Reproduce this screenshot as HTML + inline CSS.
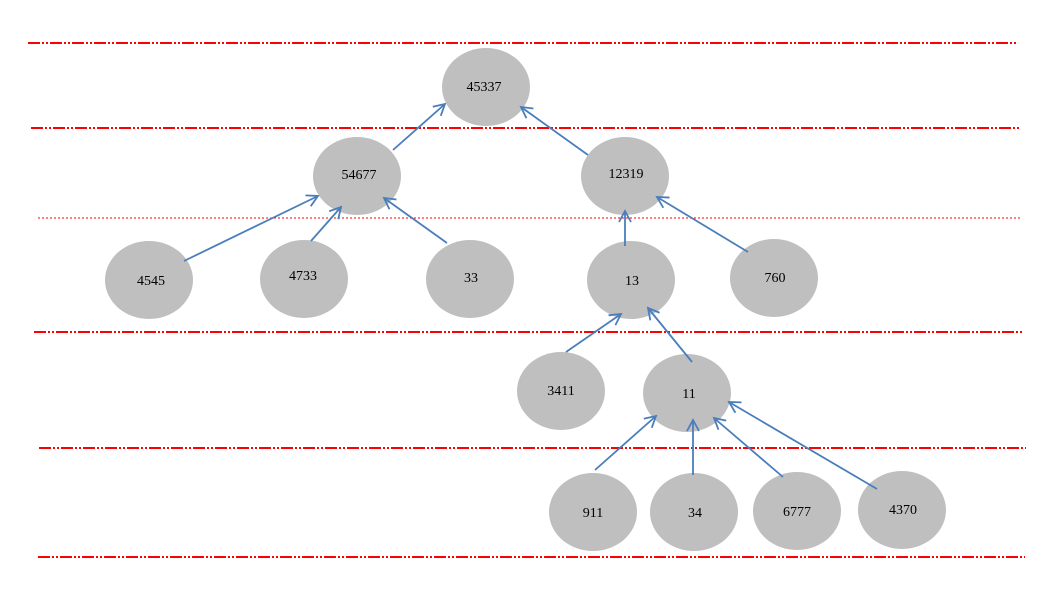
<!DOCTYPE html>
<html><head><meta charset="utf-8"><style>
html,body{margin:0;padding:0;background:#fff;}
svg{display:block;}
text{font-family:"Liberation Serif",serif;font-size:14px;fill:#000;text-anchor:middle;dominant-baseline:middle;}
</style></head><body>
<svg width="1061" height="591" viewBox="0 0 1061 591" xmlns="http://www.w3.org/2000/svg">
<defs>
<marker id="a" markerWidth="14" markerHeight="14" refX="12" refY="7" orient="auto" markerUnits="userSpaceOnUse">
<path d="M1,1 L12,7 L1,13" fill="none" stroke="#4a7ebb" stroke-width="1.8"/>
</marker>
</defs>
<g stroke="#f00" stroke-width="2" stroke-dasharray="12 2 2 2 2 2" fill="none">
<line x1="28" y1="43" x2="1016" y2="43"/>
<line x1="31" y1="128" x2="1019" y2="128"/>
<line x1="34" y1="332" x2="1022" y2="332"/>
<line x1="39" y1="448" x2="1026" y2="448"/>
<line x1="38" y1="557" x2="1025" y2="557"/>
</g>
<line x1="38" y1="218" x2="1022" y2="218" stroke="#f00" stroke-width="1" stroke-dasharray="2 2"/>
<g fill="#bfbfbf">
<ellipse cx="486" cy="87" rx="44" ry="39"/>
<ellipse cx="357" cy="176" rx="44" ry="39"/>
<ellipse cx="625" cy="176" rx="44" ry="39"/>
<ellipse cx="149" cy="280" rx="44" ry="39"/>
<ellipse cx="304" cy="279" rx="44" ry="39"/>
<ellipse cx="470" cy="279" rx="44" ry="39"/>
<ellipse cx="631" cy="280" rx="44" ry="39"/>
<ellipse cx="774" cy="278" rx="44" ry="39"/>
<ellipse cx="561" cy="391" rx="44" ry="39"/>
<ellipse cx="687" cy="393" rx="44" ry="39"/>
<ellipse cx="593" cy="512" rx="44" ry="39"/>
<ellipse cx="694" cy="512" rx="44" ry="39"/>
<ellipse cx="797" cy="511" rx="44" ry="39"/>
<ellipse cx="902" cy="510" rx="44" ry="39"/>
</g>
<g stroke="#4a7ebb" stroke-width="1.8" marker-end="url(#a)">
<line x1="393" y1="150" x2="445" y2="104"/>
<line x1="588" y1="155" x2="521" y2="107"/>
<line x1="184" y1="261" x2="318" y2="196"/>
<line x1="311" y1="241" x2="341" y2="207"/>
<line x1="447" y1="243" x2="384" y2="198"/>
<line x1="625" y1="246" x2="625" y2="211"/>
<line x1="748" y1="252" x2="657" y2="197"/>
<line x1="566" y1="352" x2="621" y2="314"/>
<line x1="692" y1="362" x2="648" y2="308"/>
<line x1="595" y1="470" x2="656" y2="416"/>
<line x1="693" y1="475" x2="693" y2="420"/>
<line x1="783" y1="477" x2="714" y2="418"/>
<line x1="877" y1="489" x2="729" y2="402"/>
</g>
<text x="484" y="88">45337</text>
<text x="359" y="176">54677</text>
<text x="626" y="175">12319</text>
<text x="151" y="282">4545</text>
<text x="303" y="277">4733</text>
<text x="471" y="279">33</text>
<text x="632" y="282">13</text>
<text x="775" y="279">760</text>
<text x="561" y="392">3411</text>
<text x="689" y="395">11</text>
<text x="593" y="514">911</text>
<text x="695" y="514">34</text>
<text x="797" y="513">6777</text>
<text x="903" y="511">4370</text>
</svg>
</body></html>
